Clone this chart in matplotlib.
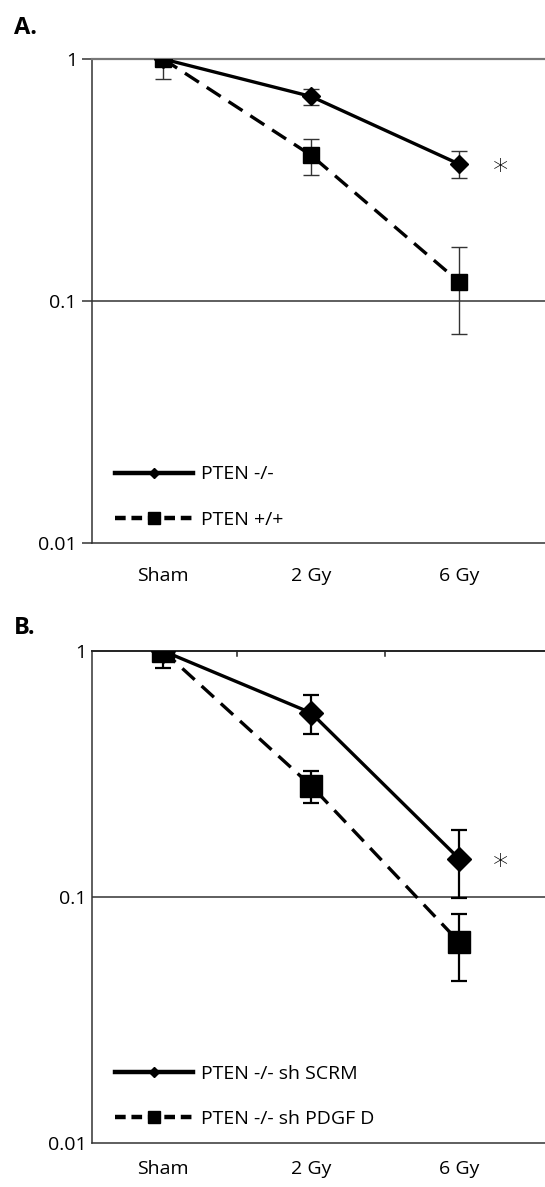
import matplotlib
matplotlib.use("Agg")
import matplotlib.pyplot as plt
from matplotlib.lines import Line2D

plt.rcParams['font.family'] = ['Open Sans', 'DejaVu Sans']

doses = ["Sham", "2 Gy", "6 Gy"]

# panel A
a_names = ["PTEN -/-", "PTEN +/+"]
a_ko = [1.0, 0.70, 0.368]
a_ko_err = [0.0, 0.055, 0.047]
a_wt = [1.0, 0.40, 0.12]
a_wt_err = [0.17, 0.068, 0.047]

# panel B
b_names = ["PTEN -/- sh SCRM", "PTEN -/- sh PDGF D"]
b_scrm = [1.0, 0.56, 0.143]
b_scrm_err = [0.0, 0.10, 0.044]
b_pdgf = [1.0, 0.283, 0.0656]
b_pdgf_err = [0.15, 0.043, 0.02]

x = list(range(len(doses)))
dash = (0, (5, 2.8))

fig = plt.figure(figsize=(5.45, 11.87), dpi=100)
axA = fig.add_axes([0.169, 0.5425, 0.831, 0.4078])
axB = fig.add_axes([0.169, 0.0371, 0.831, 0.4145])


def panel(ax, s1, e1, s2, e2, names, big, tickpad):
    ms_d = 12 if big else 9
    ms_s = 16 if big else 11
    ecol = 'black' if big else '#333333'
    elw = 1.6 if big else 1.0
    ax.errorbar(x, s1, yerr=e1, color='black', lw=2.4, marker='D', ms=ms_d,
                ecolor=ecol, elinewidth=elw, capsize=6, capthick=elw, zorder=3)
    ax.errorbar(x, s2, yerr=e2, color='black', lw=2.4, ls=dash,
                marker='s', ms=ms_s, ecolor=ecol, elinewidth=elw, capsize=6,
                capthick=elw, zorder=3)
    ax.set_yscale('log')
    ax.set_ylim(0.01, 1)
    ax.set_xlim(-0.48, 2.58)
    ax.set_yticks([0.01, 0.1, 1])
    ax.set_yticklabels(["0.01", "0.1", "1"])
    ax.minorticks_off()
    ax.set_xticks(x)
    ax.set_xticklabels(doses)
    ax.tick_params(axis='x', length=0, pad=tickpad, labelsize=14)
    ax.tick_params(axis='y', labelsize=14, pad=4)
    ax.axhline(0.1, color='#333333', lw=1.1, zorder=1)
    ax.spines['right'].set_visible(False)
    for s in ['left', 'bottom']:
        ax.spines[s].set_color('#333333')
        ax.spines[s].set_linewidth(1.1)
    handles = [Line2D([], [], color='black', lw=3.2, marker='D', ms=5.5),
               Line2D([], [], color='black', lw=3.2, ls=(0, (2.4, 1.3)),
                      marker='s', ms=9)]
    ax.legend(handles, names, loc='lower left', bbox_to_anchor=(0.05, 0.03),
              frameon=False, fontsize=14, handlelength=4.0, handletextpad=0.45,
              labelspacing=1.4, borderaxespad=0, borderpad=0)
    ax.patch.set_alpha(0)


panel(axA, a_ko, a_ko_err, a_wt, a_wt_err, a_names, False, 17)
panel(axB, b_scrm, b_scrm_err, b_pdgf, b_pdgf_err, b_names, True, 12)

axA.spines['top'].set_color('#777777')
axA.spines['top'].set_linewidth(1.6)
axA.tick_params(axis='y', length=7, color='#333333', width=1.1)
axB.spines['top'].set_color('#222222')
axB.spines['top'].set_linewidth(1.4)
axB.tick_params(axis='y', length=0)
# category-boundary ticks on top of panel B
for xb in [0.5, 1.5]:
    axB.plot([xb, xb], [1, 0.955], color='#222222', lw=1.1, clip_on=False)

axA.text(2.28, a_ko[2] * 0.93, "*", fontsize=22, family='DejaVu Sans',
         fontweight='light', ha='center', va='center')
axB.text(2.28, b_scrm[2] * 0.93, "*", fontsize=22, family='DejaVu Sans',
         fontweight='light', ha='center', va='center')

fig.text(0.026, 0.976, "A.", fontsize=17, fontweight='bold', va='center')
fig.text(0.026, 0.471, "B.", fontsize=17, fontweight='bold', va='center')

fig.savefig("out.png", dpi=100)
